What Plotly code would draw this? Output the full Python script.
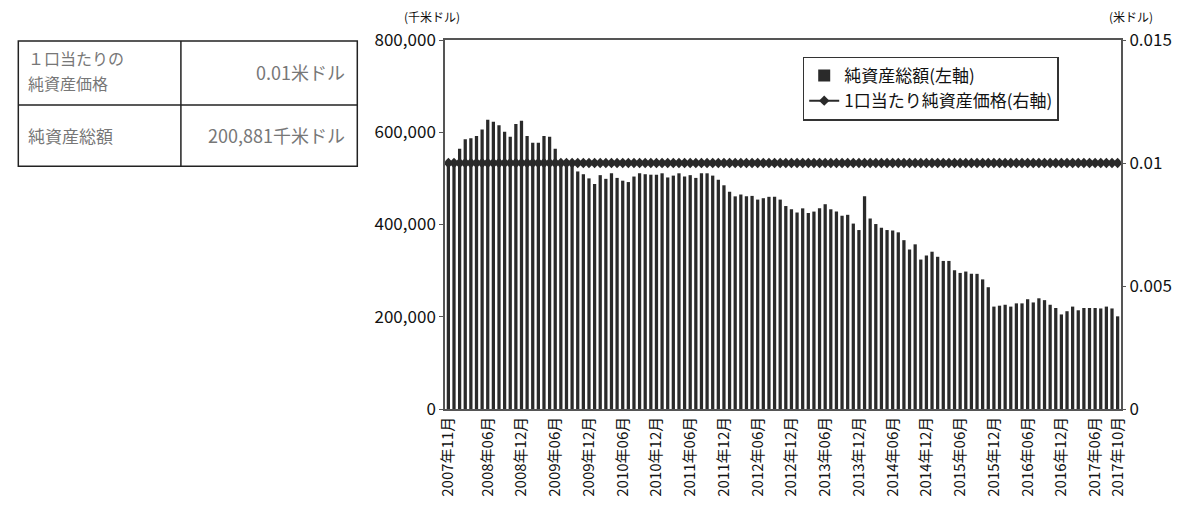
import pandas as pd
import plotly.graph_objects as go

# ---------------- data ----------------
months = [d.strftime("%Y年%m月") for d in pd.date_range("2007-11-01", "2017-10-01", freq="MS")]

net_assets = [  # 千米ドル
    530000, 538000, 564000, 585000, 587000, 592000, 606000, 627000, 623000, 615000,
    601000, 590000, 618000, 625000, 592000, 577000, 577000, 592000, 590000, 564000,
    540000, 535000, 528000, 515000, 509000, 500000, 488000, 507000, 499000, 511000,
    501000, 495000, 492000, 504000, 511000, 509000, 508000, 508000, 511000, 502000,
    506000, 511000, 504000, 507000, 501000, 511000, 511000, 506000, 497000, 485000,
    471000, 461000, 465000, 461000, 462000, 454000, 457000, 460000, 460000, 454000,
    440000, 433000, 426000, 435000, 425000, 428000, 435000, 444000, 433000, 428000,
    419000, 421000, 402000, 388000, 461000, 413000, 401000, 393000, 388000, 387000,
    383000, 366000, 346000, 357000, 324000, 333000, 341000, 330000, 321000, 321000,
    301000, 295000, 298000, 293000, 293000, 281000, 264000, 222000, 224000, 226000,
    222000, 229000, 229000, 238000, 231000, 240000, 236000, 226000, 219000, 205000,
    212000, 222000, 214000, 219000, 219000, 219000, 218000, 222000, 218000, 200881,
]

nav_per_unit = [  # 米ドル
    0.01, 0.01, 0.01, 0.01, 0.01, 0.01, 0.01, 0.01, 0.01, 0.01,
    0.01, 0.01, 0.01, 0.01, 0.01, 0.01, 0.01, 0.01, 0.01, 0.01,
    0.01, 0.01, 0.01, 0.01, 0.01, 0.01, 0.01, 0.01, 0.01, 0.01,
    0.01, 0.01, 0.01, 0.01, 0.01, 0.01, 0.01, 0.01, 0.01, 0.01,
    0.01, 0.01, 0.01, 0.01, 0.01, 0.01, 0.01, 0.01, 0.01, 0.01,
    0.01, 0.01, 0.01, 0.01, 0.01, 0.01, 0.01, 0.01, 0.01, 0.01,
    0.01, 0.01, 0.01, 0.01, 0.01, 0.01, 0.01, 0.01, 0.01, 0.01,
    0.01, 0.01, 0.01, 0.01, 0.01, 0.01, 0.01, 0.01, 0.01, 0.01,
    0.01, 0.01, 0.01, 0.01, 0.01, 0.01, 0.01, 0.01, 0.01, 0.01,
    0.01, 0.01, 0.01, 0.01, 0.01, 0.01, 0.01, 0.01, 0.01, 0.01,
    0.01, 0.01, 0.01, 0.01, 0.01, 0.01, 0.01, 0.01, 0.01, 0.01,
    0.01, 0.01, 0.01, 0.01, 0.01, 0.01, 0.01, 0.01, 0.01, 0.01,
]

x_tick_labels = [
    "2007年11月", "2008年06月", "2008年12月", "2009年06月", "2009年12月",
    "2010年06月", "2010年12月", "2011年06月", "2011年12月", "2012年06月",
    "2012年12月", "2013年06月", "2013年12月", "2014年06月", "2014年12月",
    "2015年06月", "2015年12月", "2016年06月", "2016年12月", "2017年06月",
    "2017年10月",
]

table_label_row1 = ["１口当たりの", "純資産価格"]
table_value_row1 = "0.01米ドル"
table_label_row2 = "純資産総額"
table_value_row2 = "200,881千米ドル"

legend_names = ["純資産総額(左軸)", "1口当たり純資産価格(右軸)"]
left_unit = "(千米ドル)"
right_unit = "(米ドル)"

# ---------------- layout geometry (screen pixels) ----------------
W, H = 1184, 509
PL, PR, PT, PB = 445, 1131, 40, 420  # plot area edges


def px(x):
    return (x - PL) / (PR - PL)


def py(y):
    return (PB - y) / (PB - PT)


FONT = "Noto Sans CJK JP"
DARK = "#2a2a2a"
TGREY = "#777"

fig = go.Figure()
fig.add_trace(go.Bar(
    x=months, y=net_assets, name=legend_names[0],
    marker=dict(color=DARK, line=dict(width=0)),
    yaxis="y",
))
fig.add_trace(go.Scatter(
    x=months, y=nav_per_unit, name=legend_names[1],
    mode="lines+markers",
    line=dict(color=DARK, width=2),
    marker=dict(symbol="diamond", size=8, color=DARK),
    yaxis="y2",
))

shapes = []
annotations = []


def ann(x, y, text, size, color, xanchor="center"):
    annotations.append(dict(xref="paper", yref="paper", x=px(x), y=py(y), text=text,
                            showarrow=False, xanchor=xanchor, yanchor="middle",
                            font=dict(family=FONT, size=size, color=color)))


# table on the left
tl, tm, tr = 12, 177, 356
tt, tmid, tb = 41, 107, 170
shapes.append(dict(type="rect", xref="paper", yref="paper",
                   x0=px(tl), x1=px(tr), y0=py(tb), y1=py(tt),
                   line=dict(color="#222", width=1.5)))
shapes.append(dict(type="line", xref="paper", yref="paper",
                   x0=px(tl), x1=px(tr), y0=py(tmid), y1=py(tmid),
                   line=dict(color="#222", width=1.5)))
shapes.append(dict(type="line", xref="paper", yref="paper",
                   x0=px(tm), x1=px(tm), y0=py(tb), y1=py(tt),
                   line=dict(color="#222", width=1.5)))
ann(tl + 8, 59, table_label_row1[0], 16, TGREY, "left")
ann(tl + 8, 84, table_label_row1[1], 16, TGREY, "left")
ann(tr - 10, 73, table_value_row1, 18, TGREY, "right")
ann(tl + 8, 138, table_label_row2, 17, TGREY, "left")
ann(tr - 10, 138, table_value_row2, 18, TGREY, "right")

# axis unit labels
ann(432, 16, left_unit, 12, "#111")
ann(1141, 16, right_unit, 12, "#111")

fig.update_layout(
    width=W, height=H,
    margin=dict(l=PL, r=W - PR, t=PT, b=H - PB),
    paper_bgcolor="white", plot_bgcolor="white",
    font=dict(family=FONT, color="#111"),
    bargap=0.42,
    showlegend=True,
    legend=dict(x=px(808), y=py(57), xanchor="left", yanchor="top",
                bgcolor="white", bordercolor="#333", borderwidth=1.5,
                font=dict(family=FONT, size=17, color="#111"),
                tracegroupgap=0, itemwidth=30),
    xaxis=dict(type="category", tickmode="array", tickvals=x_tick_labels, ticktext=x_tick_labels,
               tickangle=-90, tickfont=dict(family=FONT, size=15, color="#111"),
               showgrid=False, showline=True, linecolor="#555", linewidth=1.5, mirror=True,
               ticks="", range=[-0.6, len(months) - 0.4]),
    yaxis=dict(range=[0, 800000], tickvals=[0, 200000, 400000, 600000, 800000],
               tickformat=",", tickfont=dict(family=FONT, size=17, color="#111"),
               showgrid=False, zeroline=False, showline=True, linecolor="#555", linewidth=1.5,
               mirror=True, ticks="outside", ticklen=4, tickcolor="#555"),
    yaxis2=dict(range=[0, 0.015], tickvals=[0, 0.005, 0.01, 0.015],
                ticktext=["0", "0.005", "0.01", "0.015"], overlaying="y", side="right",
                tickfont=dict(family=FONT, size=17, color="#111"),
                showgrid=False, zeroline=False, showline=False,
                ticks="outside", ticklen=4, tickcolor="#555"),
    shapes=shapes,
    annotations=annotations,
)

fig.write_html(
    "out.html",
    config={"displayModeBar": False},
    post_script="document.body.style.margin='0';document.body.style.overflow='hidden';",
)
